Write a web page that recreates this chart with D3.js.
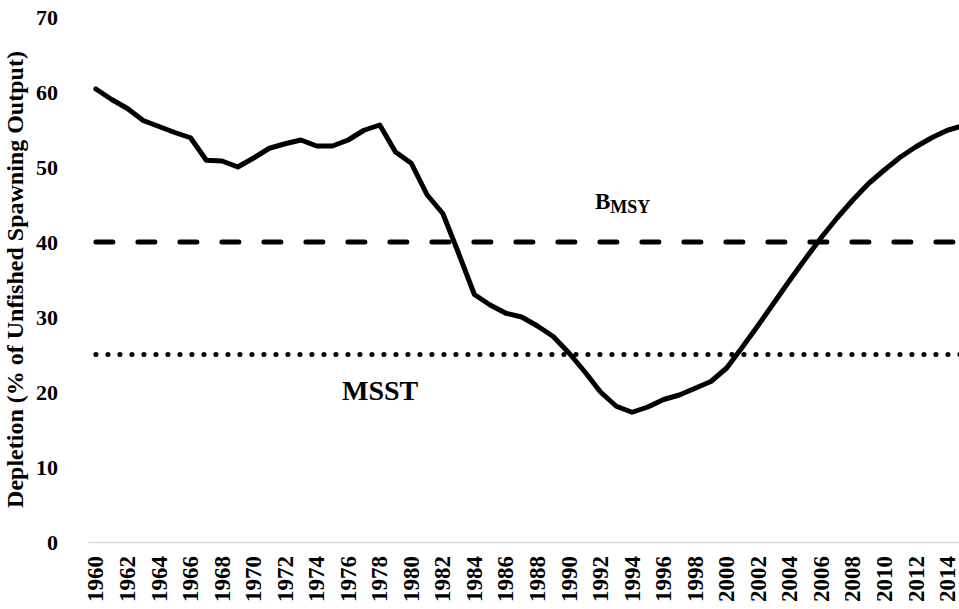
<!DOCTYPE html>
<head>
  <script src="https://d3js.org/d3.v7.min.js"></script>
  <style>
    body {
      margin: 0;
      overflow: hidden;
      background: #fff;
    }
    text {
      font-family: "Liberation Serif", "Times New Roman", serif;
      font-weight: bold;
      fill: #000;
    }
  </style>
</head>
<body>
  <svg width="959" height="609"></svg>
  <script>
    // spawning output depletion by year
    const years = d3.range(1960, 2016);
    const depletion = [
      60.4, 59.0, 57.8, 56.2, 55.4, 54.6, 53.9, 50.9, 50.8, 50.0,
      51.2, 52.5, 53.1, 53.6, 52.8, 52.8, 53.6, 54.9, 55.6, 52.0,
      50.5, 46.3, 43.8, 38.5, 33.0, 31.6, 30.5, 30.0, 28.8, 27.4,
      25.2, 22.7, 20.0, 18.1, 17.3, 18.0, 19.0, 19.6, 20.5, 21.4,
      23.2, 26.0, 28.9, 31.9, 34.9, 37.8, 40.6, 43.2, 45.6, 47.8,
      49.6, 51.3, 52.7, 53.9, 54.9, 55.5
    ];
    const bmsy = 40;
    const msst = 25;
    const yTicks = [0, 10, 20, 30, 40, 50, 60, 70];
    const xTickYears = d3.range(1960, 2016, 2);

    (function (d3) {
      'use strict';

      const svg = d3.select('svg');

      const step = 15.77;
      const xLeft = 88;

      const xScale = d3.scaleBand()
        .domain(years)
        .range([xLeft, xLeft + step * years.length]);
      const xc = yr => xScale(yr) + xScale.bandwidth() / 2;

      const yScale = d3.scaleLinear()
        .domain([0, 70])
        .range([542, 17]);

      // y axis: labels only
      const yAxisG = svg.append('g')
        .attr('transform', 'translate(58,0)')
        .call(d3.axisLeft(yScale).tickValues(yTicks).tickSize(0).tickPadding(0));
      yAxisG.select('.domain').remove();
      yAxisG.selectAll('text')
        .style('font-size', '22px')
        .attr('dy', '0.35em');

      // x axis: thin gray line, rotated year labels
      const xAxisG = svg.append('g')
        .attr('transform', `translate(0,${yScale(0)})`)
        .call(d3.axisBottom(xScale)
          .tickValues(xTickYears)
          .tickSize(0)
          .tickSizeOuter(0));
      xAxisG.select('.domain')
        .attr('stroke', '#d9d9d9')
        .attr('stroke-width', 1.5);
      xAxisG.selectAll('text')
        .style('font-size', '23px')
        .attr('transform', 'rotate(-90)')
        .attr('text-anchor', 'end')
        .attr('x', -14)
        .attr('y', 0)
        .attr('dy', '0.33em');

      // y axis title
      svg.append('text')
        .attr('transform', `translate(23,${yScale(35)}) rotate(-90)`)
        .attr('text-anchor', 'middle')
        .style('font-size', '24px')
        .text('Depletion (% of Unfished Spawning Output)');

      const line = d3.line()
        .x(d => xc(d[0]))
        .y(d => yScale(d[1]));

      // reference lines
      svg.append('path')
        .datum(years.map(yr => [yr, bmsy]))
        .attr('d', line)
        .attr('fill', 'none')
        .attr('stroke', '#000')
        .attr('stroke-width', 5)
        .attr('stroke-linecap', 'round')
        .attr('stroke-dasharray', '17,25');

      svg.append('path')
        .datum(years.map(yr => [yr, msst]))
        .attr('d', line)
        .attr('fill', 'none')
        .attr('stroke', '#000')
        .attr('stroke-width', 5)
        .attr('stroke-linecap', 'round')
        .attr('stroke-dasharray', '0.1,11.9');

      // depletion series
      svg.append('path')
        .datum(years.map((yr, i) => [yr, depletion[i]]))
        .attr('d', line)
        .attr('fill', 'none')
        .attr('stroke', '#000')
        .attr('stroke-width', 5)
        .attr('stroke-linejoin', 'round')
        .attr('stroke-linecap', 'round');

      // labels
      const bLabel = svg.append('text')
        .attr('x', 595)
        .attr('y', 209)
        .style('font-size', '23px');
      bLabel.append('tspan').text('B');
      bLabel.append('tspan')
        .attr('dy', 4)
        .style('font-size', '18px')
        .text('MSY');

      svg.append('text')
        .attr('x', 342)
        .attr('y', 400)
        .style('font-size', '28px')
        .text('MSST');

    }(d3));
  </script>
</body>
